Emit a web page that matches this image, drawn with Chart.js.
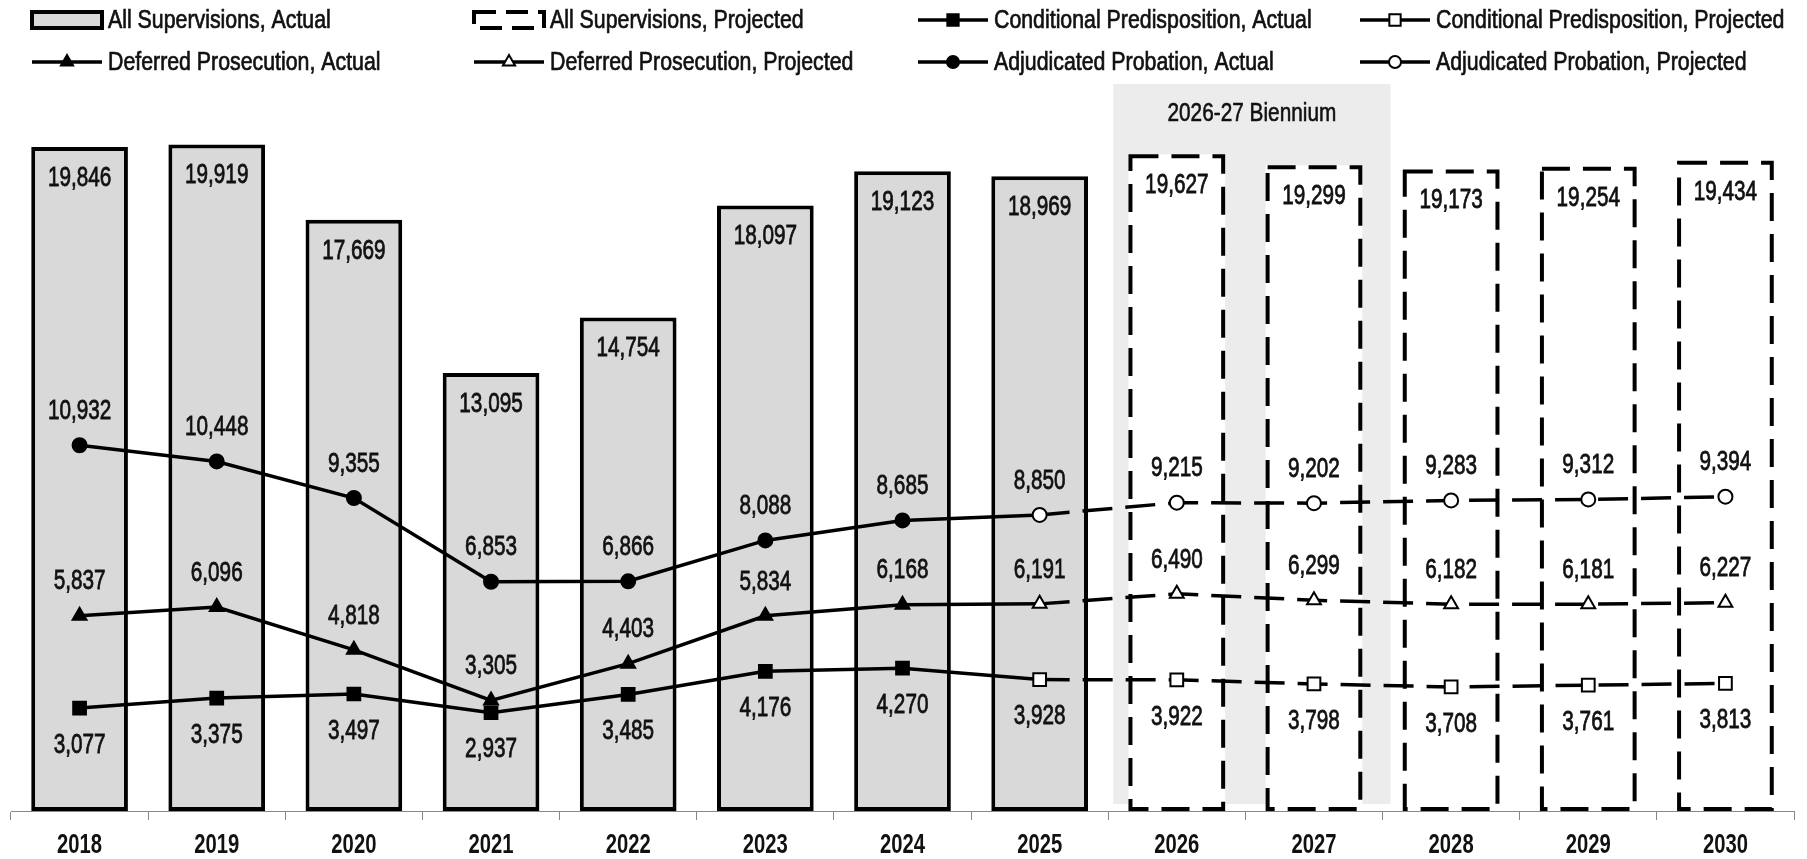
<!DOCTYPE html>
<html>
<head>
<meta charset="utf-8">
<title>Supervisions</title>
<script src="https://cdn.jsdelivr.net/npm/chart.js@4.4.1/dist/chart.umd.min.js"></script>
<style>
  html, body { margin: 0; padding: 0; background: #fff; }
  #wrap { width: 1807px; height: 859px; position: relative; }
</style>
</head>
<body>
<div id="wrap"><canvas id="supervisionChart"></canvas></div>
<script>
const years = ['2018', '2019', '2020', '2021', '2022', '2023', '2024', '2025', '2026', '2027', '2028', '2029', '2030'];

const totalActual = [19846, 19919, 17669, 13095, 14754, 18097, 19123, 18969];
const totalProjected = [null, null, null, null, null, null, null, null, 19627, 19299, 19173, 19254, 19434];

const adjudicatedActual = [10932, 10448, 9355, 6853, 6866, 8088, 8685, 8850];
const adjudicatedProjected = [null, null, null, null, null, null, null, 8850, 9215, 9202, 9283, 9312, 9394];

const deferredActual = [5837, 6096, 4818, 3305, 4403, 5834, 6168, 6191];
const deferredProjected = [null, null, null, null, null, null, null, 6191, 6490, 6299, 6182, 6181, 6227];

const conditionalActual = [3077, 3375, 3497, 2937, 3485, 4176, 4270, 3928];
const conditionalProjected = [null, null, null, null, null, null, null, 3928, 3922, 3798, 3708, 3761, 3813];

const bienniumYears = ['2026', '2027'];
const bienniumLabel = '2026-27 Biennium';

// no condensed face is installed, so text is squeezed horizontally when drawn
const FONT = "'Liberation Sans', Arial, sans-serif";
Chart.defaults.font.family = FONT;

const fmt = v => v.toLocaleString('en-US');

// 2025 is shared by the actual and projected lines
const joinIndex = years.indexOf('2025');

// squeezed text, with a hairline stroke to get a medium weight
function narrowText(ctx, text, x, y, sx, heavy) {
    ctx.save();
    ctx.translate(x, y);
    ctx.scale(sx, 1);
    ctx.fillText(text, 0, 0);
    if (heavy) {
        ctx.strokeStyle = ctx.fillStyle;
        ctx.lineWidth = heavy;
        ctx.setLineDash([]);
        ctx.strokeText(text, 0, 0);
    }
    ctx.restore();
}

// grey box behind the biennium columns
const bienniumPlugin = {
    id: 'biennium',
    beforeDatasetsDraw(chart) {
        const { ctx, chartArea } = chart;
        const x = chart.scales.x;
        const half = (x.getPixelForValue(1) - x.getPixelForValue(0)) / 2;
        const left = x.getPixelForValue(years.indexOf(bienniumYears[0])) - half + 5;
        const right = x.getPixelForValue(years.indexOf(bienniumYears[1])) + half + 8;
        ctx.save();
        ctx.fillStyle = '#ececec';
        ctx.fillRect(left, chartArea.top - 1, right - left, chartArea.bottom - chartArea.top - 6);
        ctx.fillStyle = '#111';
        ctx.font = '26px ' + FONT;
        ctx.textAlign = 'center';
        ctx.textBaseline = 'middle';
        narrowText(ctx, bienniumLabel, (left + right) / 2, chartArea.top + 29, 0.8, 0.6);
        ctx.restore();
    }
};

// Chart.js bars can't have dashed borders, so stroke them here
const dashedBarPlugin = {
    id: 'dashedBars',
    afterDatasetDraw(chart, args) {
        const ds = chart.data.datasets[args.index];
        if (!ds.dashedBorder) return;
        const ctx = chart.ctx;
        ctx.save();
        ctx.strokeStyle = '#000';
        ctx.lineWidth = 4;
        ctx.setLineDash([28, 13]);
        args.meta.data.forEach((el, i) => {
            if (ds.data[i] == null) return;
            const { x, y, base, width } = el.getProps(['x', 'y', 'base', 'width'], true);
            ctx.strokeRect(x - width / 2 + 2, y + 2, width - 4, base - y - 4);
        });
        ctx.restore();
    }
};

const labelPlugin = {
    id: 'valueLabels',
    afterDatasetsDraw(chart) {
        const ctx = chart.ctx;
        ctx.save();
        ctx.font = '28px ' + FONT;
        ctx.fillStyle = '#111';
        ctx.textAlign = 'center';
        ctx.textBaseline = 'middle';
        chart.data.datasets.forEach((ds, i) => {
            if (!ds.labelPlace) return;
            const meta = chart.getDatasetMeta(i);
            meta.data.forEach((el, j) => {
                const v = ds.data[j];
                if (v == null || j === ds.skipLabel) return;
                let y = el.y;
                if (ds.labelPlace === 'inside') y = el.y + 30;
                else if (ds.labelPlace === 'above') y = el.y - 35;
                else y = el.y + 36;
                narrowText(ctx, fmt(v), el.x, y + 1, 0.74, 0.8);
            });
        });

        // year labels under the axis
        const x = chart.scales.x;
        ctx.font = 'bold 27px ' + FONT;
        chart.data.labels.forEach((lab, i) => {
            narrowText(ctx, lab, x.getPixelForValue(i), chart.chartArea.bottom + 35, 0.75, 0);
        });
        ctx.restore();
    }
};

const legendItems = [
    { text: 'All Supervisions, Actual', kind: 'bar' },
    { text: 'All Supervisions, Projected', kind: 'dashbar' },
    { text: 'Conditional Predisposition, Actual', kind: 'line', style: 'rect', fill: '#000', r: 9 },
    { text: 'Conditional Predisposition, Projected', kind: 'line', style: 'rect', fill: '#fff', r: 9 },
    { text: 'Deferred Prosecution, Actual', kind: 'line', style: 'triangle', fill: '#000', r: 8 },
    { text: 'Deferred Prosecution, Projected', kind: 'line', style: 'triangle', fill: '#fff', r: 8 },
    { text: 'Adjudicated Probation, Actual', kind: 'line', style: 'circle', fill: '#000', r: 7 },
    { text: 'Adjudicated Probation, Projected', kind: 'line', style: 'circle', fill: '#fff', r: 7 }
];
const legendCols = [32, 474, 918, 1360];
const legendRows = [20, 62];

const legendPlugin = {
    id: 'customLegend',
    afterDraw(chart) {
        const ctx = chart.ctx;
        ctx.save();
        ctx.font = '26px ' + FONT;
        ctx.textBaseline = 'middle';
        ctx.textAlign = 'left';
        legendItems.forEach((item, i) => {
            const x = legendCols[i % 4];
            const y = legendRows[Math.floor(i / 4)];
            ctx.strokeStyle = '#000';
            if (item.kind === 'bar') {
                ctx.fillStyle = '#d9d9d9';
                ctx.lineWidth = 4;
                ctx.fillRect(x, y - 8, 70, 16);
                ctx.strokeRect(x, y - 8, 70, 16);
            } else if (item.kind === 'dashbar') {
                ctx.lineWidth = 4;
                ctx.setLineDash([22, 10]);
                ctx.strokeRect(x, y - 8, 70, 16);
                ctx.setLineDash([]);
            } else {
                ctx.lineWidth = 3.5;
                ctx.beginPath();
                ctx.moveTo(x, y);
                ctx.lineTo(x + 70, y);
                ctx.stroke();
                ctx.fillStyle = item.fill;
                ctx.lineWidth = 2;
                Chart.helpers.drawPoint(ctx, { pointStyle: item.style, rotation: 0, radius: item.r - 1, borderWidth: 2 }, x + 35, y);
            }
            ctx.fillStyle = '#111';
            narrowText(ctx, item.text, x + 76, y + 1, 0.82, 0.7);
        });
        ctx.restore();
    }
};

function markerSize(style) {
    return style === 'rect' ? 9 : style === 'triangle' ? 8 : 7;
}

function lineSet(label, data, style, projected, place, order) {
    return {
        type: 'line',
        label: label,
        data: data,
        order: order,
        borderColor: '#000',
        borderWidth: 3.5,
        borderDash: projected ? [30, 13] : [],
        pointStyle: style,
        pointRadius: projected ? markerSize(style) : (c => c.dataIndex === joinIndex ? 0 : markerSize(style)),
        pointBackgroundColor: projected ? '#fff' : '#000',
        pointBorderColor: '#000',
        pointBorderWidth: 2,
        fill: false,
        tension: 0,
        labelPlace: place,
        skipLabel: projected ? joinIndex : -1
    };
}

const ctx = document.getElementById('supervisionChart').getContext('2d');
new Chart(ctx, {
    data: {
        labels: years,
        datasets: [
            {
                type: 'bar', label: 'All Supervisions, Actual', data: totalActual, order: 3,
                backgroundColor: '#d9d9d9', borderColor: '#000', borderWidth: 4, borderSkipped: false,
                barPercentage: 0.705, categoryPercentage: 1, grouped: false, labelPlace: 'inside'
            },
            {
                type: 'bar', label: 'All Supervisions, Projected', data: totalProjected, order: 2,
                backgroundColor: '#fff', borderWidth: 0, dashedBorder: true,
                barPercentage: 0.705, categoryPercentage: 1, grouped: false, labelPlace: 'inside'
            },
            lineSet('Adjudicated Probation, Actual', adjudicatedActual, 'circle', false, 'above', 1),
            lineSet('Adjudicated Probation, Projected', adjudicatedProjected, 'circle', true, 'above', 0),
            lineSet('Deferred Prosecution, Actual', deferredActual, 'triangle', false, 'above', 1),
            lineSet('Deferred Prosecution, Projected', deferredProjected, 'triangle', true, 'above', 0),
            lineSet('Conditional Predisposition, Actual', conditionalActual, 'rect', false, 'below', 1),
            lineSet('Conditional Predisposition, Projected', conditionalProjected, 'rect', true, 'below', 0)
        ]
    },
    options: {
        responsive: true,
        maintainAspectRatio: false,
        animation: false,
        layout: { padding: { top: 85, left: 9, right: 13, bottom: 0 } },
        plugins: { legend: { display: false }, tooltip: { enabled: false } },
        scales: {
            x: {
                offset: true,
                grid: { offset: true, drawOnChartArea: false, drawTicks: true, tickLength: 9, color: '#888', lineWidth: 1 },
                border: { display: true, color: '#888', width: 1 },
                ticks: { display: false },
                afterFit(scale) { scale.height = 48; }
            },
            y: { display: false, min: 0, max: 21700 }
        }
    },
    plugins: [bienniumPlugin, dashedBarPlugin, labelPlugin, legendPlugin]
});
</script>
</body>
</html>
